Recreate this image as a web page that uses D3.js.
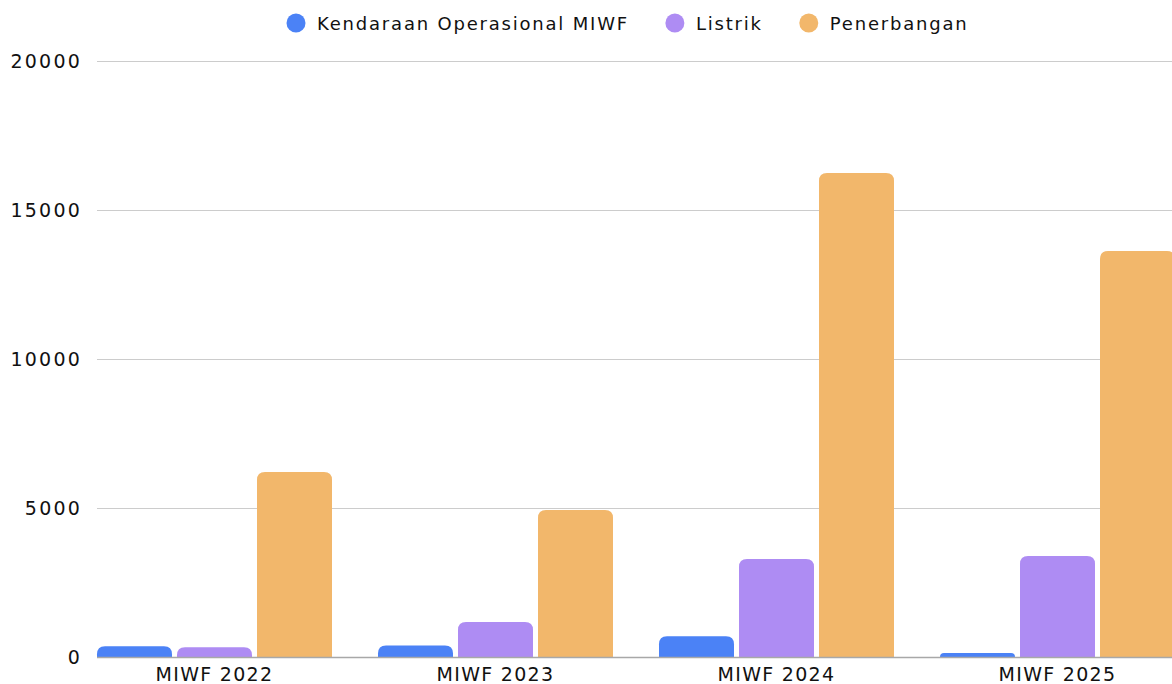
<!DOCTYPE html>
<html lang="id">
  <head>
    <meta charset="UTF-8" />
    <title>MIWF</title>
    <script src="https://d3js.org/d3.v7.min.js"></script>
    <style>
      body {
        margin: 0;
        background: #fff;
        font-family: 'DejaVu Sans', sans-serif;
        overflow: hidden;
      }
      text {
        font-family: 'DejaVu Sans', sans-serif;
      }
    </style>
  </head>
  <body>
    <div id="chart"></div>
    <script>
      const categories = ['MIWF 2022', 'MIWF 2023', 'MIWF 2024', 'MIWF 2025'];
      const seriesNames = ['Kendaraan Operasional MIWF', 'Listrik', 'Penerbangan'];
      const kendaraan = [360, 390, 700, 135];
      const listrik = [325, 1175, 3290, 3390];
      const penerbangan = [6210, 4930, 16240, 13620];
      const yTicks = [0, 5000, 10000, 15000, 20000];
      const colors = ['#4b82f6', '#ae8cf3', '#f2b76b'];

      const W = 1172, H = 684;
      const plotLeft = 97, plotTop = 61, plotBottom = 657;
      const step = 281;

      const svg = d3.select('#chart').append('svg')
        .attr('width', W).attr('height', H);

      const y = d3.scaleLinear().domain([0, 20000]).range([plotBottom, plotTop]);
      const x0 = d3.scaleBand().domain(categories)
        .range([73.5, 73.5 + step * categories.length]).padding(0);
      const x1 = d3.scaleBand().domain(seriesNames)
        .range([23.5, 258.5]).paddingInner(0.0625).paddingOuter(0);

      // gridlines
      svg.append('g')
        .selectAll('line')
        .data(yTicks.filter(d => d > 0))
        .join('line')
        .attr('x1', plotLeft).attr('x2', W)
        .attr('y1', d => y(d) + 0.5).attr('y2', d => y(d) + 0.5)
        .attr('stroke', '#cccccc').attr('stroke-width', 1);

      // y labels
      const yAxis = svg.append('g')
        .attr('transform', `translate(${plotLeft - 15},0)`)
        .call(d3.axisLeft(y).tickValues(yTicks).tickSize(0).tickPadding(0).tickFormat(d3.format('d')));
      yAxis.select('.domain').remove();
      yAxis.selectAll('text')
        .attr('font-family', "'DejaVu Sans', sans-serif")
        .attr('font-size', 19).attr('fill', '#111').attr('letter-spacing', 2.2);

      // bars
      const data = categories.map((c, i) => ({
        cat: c,
        values: [kendaraan[i], listrik[i], penerbangan[i]]
      }));

      const r = 8;
      function topRounded(x, yTop, w, h) {
        const rr = Math.min(r, h, w / 2);
        return `M${x},${yTop + h}V${yTop + rr}Q${x},${yTop} ${x + rr},${yTop}` +
          `H${x + w - rr}Q${x + w},${yTop} ${x + w},${yTop + rr}V${yTop + h}Z`;
      }

      const groups = svg.append('g').selectAll('g')
        .data(data).join('g')
        .attr('transform', d => `translate(${x0(d.cat)},0)`);

      groups.selectAll('path')
        .data(d => d.values.map((v, k) => ({ name: seriesNames[k], v, k })))
        .join('path')
        .attr('d', d => {
          const yt = y(d.v);
          return topRounded(x1(d.name), yt, x1.bandwidth(), plotBottom - yt);
        })
        .attr('fill', d => colors[d.k]);

      // baseline
      svg.append('line')
        .attr('x1', plotLeft).attr('x2', W)
        .attr('y1', plotBottom + 0.5).attr('y2', plotBottom + 0.5)
        .attr('stroke', '#a8a8a8').attr('stroke-width', 1.5);

      // x labels
      svg.append('g').selectAll('text')
        .data(categories).join('text')
        .attr('x', d => x0(d) + x0.bandwidth() / 2 + 0.5)
        .attr('y', plotBottom + 24)
        .attr('text-anchor', 'middle')
        .attr('font-size', 19).attr('fill', '#111')
        .attr('letter-spacing', 1.3)
        .text(d => d);

      // legend, laid out left to right from text widths
      const legend = svg.append('g');
      let lx = 286;
      seriesNames.forEach((name, i) => {
        legend.append('circle')
          .attr('cx', lx + 10).attr('cy', 23).attr('r', 9.5)
          .attr('fill', colors[i]);
        const t = legend.append('text')
          .attr('x', lx + 31).attr('y', 29.5)
          .attr('font-size', 18).attr('fill', '#111')
          .attr('letter-spacing', 1.8)
          .text(name);
        lx += 31 + t.node().getComputedTextLength() + 36;
      });
    </script>
  </body>
</html>
